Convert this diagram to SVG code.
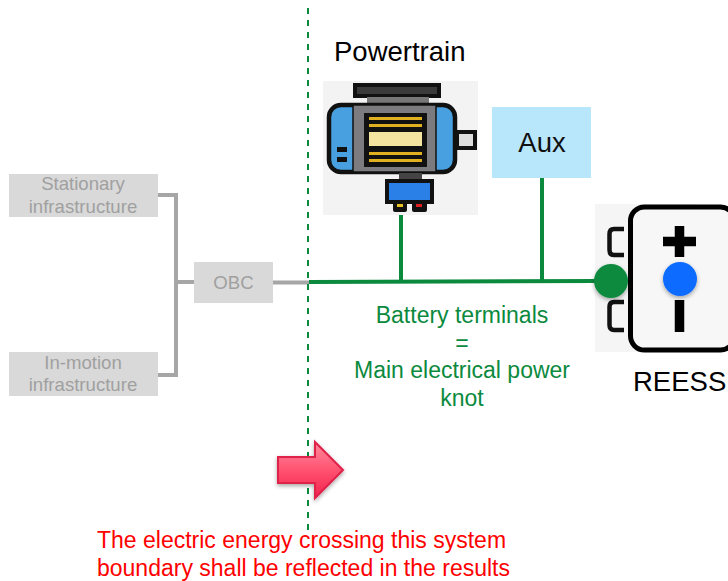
<svg xmlns="http://www.w3.org/2000/svg" width="728" height="581" viewBox="0 0 728 581">
<defs>
<linearGradient id="ag" x1="0" y1="0" x2="0" y2="1"><stop offset="0" stop-color="#ff8a9c"/><stop offset="0.55" stop-color="#ff4d6d"/><stop offset="1" stop-color="#f0234f"/></linearGradient>
<filter id="sh" x="-30%" y="-30%" width="160%" height="160%"><feDropShadow dx="0" dy="2" stdDeviation="2" flood-color="#000" flood-opacity="0.35"/></filter>
</defs>
<style>
text{font-family:"Liberation Sans",Arial,sans-serif}
.g{fill:#a0a0a0;font-size:18.600px;text-anchor:middle}
.gb{fill:#d9d9d9}
.gl{fill:none;stroke:#a6a6a6;stroke-width:4}
.gr{fill:none;stroke:#0b8a3e;stroke-width:4}
.gt{fill:#0b8a3e;font-size:23px;text-anchor:middle}
.k{fill:#000;font-size:27.500px}
.r{fill:#f00;font-size:23px}
</style>
<rect width="728" height="581" fill="#fff"/>
<g id="connectors">
<path class="gl" d="M158 195H176V375H158M176 282H194M273 282.500H309"/>
<path class="gr" d="M309 282L597 281M401 215V281M542 178V281"/>
<path d="M308 8V534" fill="none" stroke="#0b8a3e" stroke-width="2" stroke-dasharray="6 6"/>
</g>
<g id="stationary"><rect class="gb" x="9" y="174" width="149" height="43"/><text class="g" x="83" y="190">Stationary</text><text class="g" x="83" y="213">infrastructure</text></g>
<g id="inmotion"><rect class="gb" x="9" y="352" width="149" height="44"/><text class="g" x="83" y="369">In-motion</text><text class="g" x="83" y="391">infrastructure</text></g>
<g id="obc"><rect class="gb" x="194" y="262" width="79" height="41"/><text class="g" x="233.500" y="289">OBC</text></g>
<g id="powertrain">
<text class="k" x="334" y="61">Powertrain</text>
<rect x="323" y="81" width="155" height="134" fill="#f3f3f3"/>
<rect x="355" y="85" width="84" height="11" fill="#3a3a3a" stroke="#111" stroke-width="4"/>
<rect x="367" y="97" width="62" height="7" fill="#777"/>
<rect x="329" y="105" width="126" height="67" rx="12" fill="#48a0e0" stroke="#111" stroke-width="4.500"/>
<rect x="353" y="105" width="83" height="67" fill="#7c7c80" stroke="#111" stroke-width="1.500"/>
<rect x="364" y="113" width="63" height="54" fill="#111"/>
<g fill="#e0b020"><rect x="369" y="117" width="53" height="3"/><rect x="369" y="124" width="53" height="3"/><rect x="369" y="152" width="53" height="3"/><rect x="369" y="159" width="53" height="3"/></g>
<rect x="369" y="132" width="53" height="14" fill="#f5e3a0"/>
<rect x="457" y="132" width="18" height="16" fill="#ddd" stroke="#111" stroke-width="4"/>
<rect x="337" y="147" width="10" height="5" fill="#111"/><rect x="337" y="157" width="10" height="5" fill="#111"/>
<rect x="399" y="173" width="23" height="7" fill="#444"/>
<rect x="387" y="181" width="45" height="21" fill="#2b80e8" stroke="#111" stroke-width="4"/>
<rect x="393" y="202" width="14" height="10" rx="2" fill="#111"/><rect x="412" y="202" width="15" height="10" rx="2" fill="#111"/>
<rect x="397" y="204" width="6" height="3" fill="#e8c020"/><rect x="416" y="204" width="6" height="3" fill="#e02020"/>
</g>
<g id="aux"><rect x="492" y="107" width="99" height="71" fill="#b8e6fb"/><text x="542" y="152" text-anchor="middle" font-size="27.500" fill="#111">Aux</text></g>
<g id="reess">
<rect x="595" y="204" width="100" height="148" fill="#f5f5f5"/>
<rect x="630.500" y="207" width="104" height="143" rx="14" fill="#f7f7f7" stroke="#000" stroke-width="5"/>
<path d="M624 229H614Q609.500 229 609.500 234V250Q609.500 255 614 255H624M624 302H614Q609.500 302 609.500 307V325Q609.500 330 614 330H624" fill="none" stroke="#111" stroke-width="4.500"/>
<path d="M663 241.500H696M679.500 226V257M679.500 300V332" fill="none" stroke="#000" stroke-width="9.500"/>
<circle cx="680" cy="279" r="17" fill="#0a6cff" filter="url(#sh)"/>
<circle cx="611" cy="281" r="17" fill="#0b8a3e" filter="url(#sh)"/>
<text class="k" x="633" y="391">REESS</text>
</g>
<g id="knot-label"><text class="gt" x="462" y="323">Battery terminals</text><text class="gt" x="462" y="351">=</text><text class="gt" x="462" y="378">Main electrical power</text><text class="gt" x="462" y="406">knot</text></g>
<g id="boundary-arrow"><path d="M278 457H315V442L343 470L315 498V483H278Z" fill="url(#ag)" stroke="#e0204a" stroke-width="2" filter="url(#sh)"/></g>
<g id="boundary-note"><text class="r" x="97" y="548">The electric energy crossing this system</text><text class="r" x="97" y="576">boundary shall be reflected in the results</text></g>
</svg>
